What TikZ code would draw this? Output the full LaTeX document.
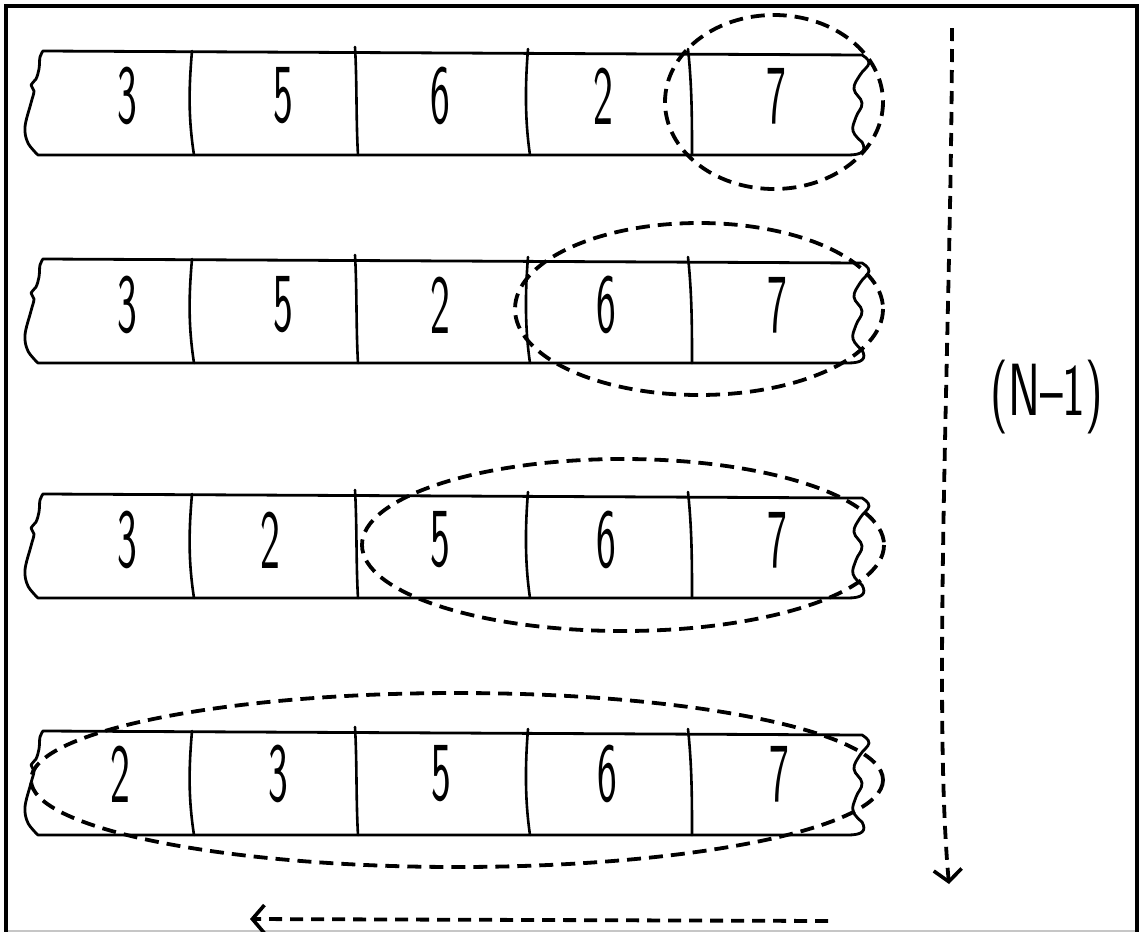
\documentclass[tikz,border=0pt]{standalone}
\usetikzlibrary{arrows.meta}
\tikzset{
  tape/.style={line width=2.8pt, line join=round, line cap=round},
  divider/.style={line width=2.6pt, line cap=round},
  hl/.style={line width=3.8pt, dash pattern=on 14pt off 8pt},
  dasharrow/.style={line width=3.8pt, dash pattern=on 13pt off 8pt,
    -{Straight Barb[length=12pt,width=28pt,line width=3.6pt]}},
  digit/.style={inner sep=0pt, font=\fontsize{84}{84}\selectfont\sffamily},
  lab/.style={inner sep=0pt, font=\fontsize{74}{74}\selectfont\sffamily}
}
\newcommand{\tapeshape}{%
  \draw[tape] (43,0) -- (862,4)
    -- plot[smooth, tension=0.7] coordinates {(862,4) (869,12) (860,24) (854,38) (862,52) (856,66) (853,80) (862,91)}
    .. controls (867,100) and (862,104) .. (848,104)
    -- (38,104)
    -- plot[smooth, tension=0.6] coordinates {(38,104) (28,92) (25,76) (31,52) (34,40) (31,34) (36,28) (39,18) (40,6) (43,0)}
    -- cycle;
  \draw[divider] (192,0) .. controls (189,35) and (188,65) .. (194,104);
  \draw[divider] (355,-4) .. controls (357,30) and (356,70) .. (358,104);
  \draw[divider] (528,-2) .. controls (525,35) and (525,70) .. (530,104);
  \draw[divider] (688,-2) .. controls (692,35) and (692,70) .. (692,104);
}
\begin{document}
\begin{tikzpicture}[x=1pt,y=-1pt]
\useasboundingbox (0,0) rectangle (1141,932);
% frame
\draw[gray!45, line width=2pt] (6,931) -- (1137,931);
\draw[line width=3.2pt] (6,934) -- (6,6) -- (1137,6) -- (1137,934);

% row 1
\begin{scope}[shift={(0,51)}]
  \tapeshape
  \node[digit] (a1) at (127,45) {\scalebox{0.5}[1]{3}};
  \node[digit] (a2) at (283,45) {\scalebox{0.5}[1]{5}};
  \node[digit] (a3) at (440,45) {\scalebox{0.5}[1]{6}};
  \node[digit] (a4) at (603,45) {\scalebox{0.5}[1]{2}};
  \node[digit] (a5) at (776,45) {\scalebox{0.5}[1]{7}};
\end{scope}
\draw[hl] (774,102) ellipse [x radius=109, y radius=87];

% row 2
\begin{scope}[shift={(0,259)}]
  \tapeshape
  \node[digit] (b1) at (127,46) {\scalebox{0.5}[1]{3}};
  \node[digit] (b2) at (283,46) {\scalebox{0.5}[1]{5}};
  \node[digit] (b3) at (440,46) {\scalebox{0.5}[1]{2}};
  \node[digit] (b4) at (606,46) {\scalebox{0.5}[1]{6}};
  \node[digit] (b5) at (777,46) {\scalebox{0.5}[1]{7}};
\end{scope}
\draw[hl] (699,309) ellipse [x radius=184, y radius=86];

% row 3
\begin{scope}[shift={(0,494)}]
  \tapeshape
  \node[digit] (c1) at (127,46) {\scalebox{0.5}[1]{3}};
  \node[digit] (c2) at (270,46) {\scalebox{0.5}[1]{2}};
  \node[digit] (c3) at (440,46) {\scalebox{0.5}[1]{5}};
  \node[digit] (c4) at (606,46) {\scalebox{0.5}[1]{6}};
  \node[digit] (c5) at (777,46) {\scalebox{0.5}[1]{7}};
\end{scope}
\draw[hl] (623,545) ellipse [x radius=261, y radius=86];

% row 4
\begin{scope}[shift={(0,731)}]
  \tapeshape
  \node[digit] (d1) at (120,43) {\scalebox{0.5}[1]{2}};
  \node[digit] (d2) at (278,43) {\scalebox{0.5}[1]{3}};
  \node[digit] (d3) at (441,43) {\scalebox{0.5}[1]{5}};
  \node[digit] (d4) at (607,43) {\scalebox{0.5}[1]{6}};
  \node[digit] (d5) at (779,43) {\scalebox{0.5}[1]{7}};
\end{scope}
\draw[hl] (457,780) ellipse [x radius=426, y radius=87];

% arrows
\coordinate (vs) at (952,28);
\coordinate (ve) at (949,884);
\draw[dasharrow] (vs) .. controls (952,300) and (932,700) .. (ve);
\coordinate (hs) at (828,921);
\coordinate (he) at (250,919);
\draw[dasharrow] (hs) -- (he);

\node[lab] (n) at (1047,397) {\scalebox{0.65}[1]{(N--1)}};
\end{tikzpicture}
\end{document}
